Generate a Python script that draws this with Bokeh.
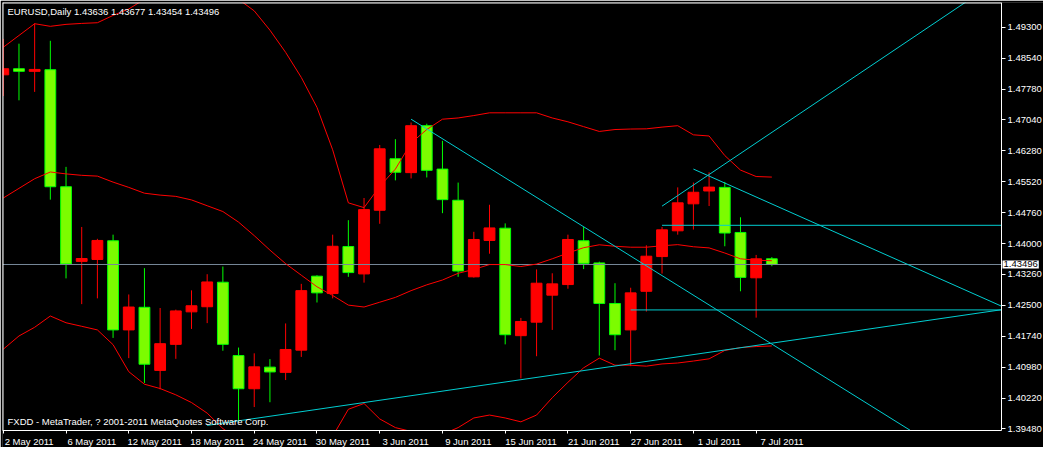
import pandas as pd
from bokeh.plotting import figure
from bokeh.models import ColumnDataSource, FixedTicker, PrintfTickFormatter, Label, Range1d
from bokeh.embed import file_html
from bokeh.resources import INLINE

# ---------------- data ----------------
dates = pd.bdate_range("2011-05-02", periods=50)

opens = [1.48138, 1.48287, 1.48223, 1.48263, 1.45399, 1.43572, 1.43619, 1.44077, 1.41895, 1.42448,
         1.40904, 1.41541, 1.42337, 1.42462, 1.43062, 1.41267, 1.40455, 1.40984, 1.40856, 1.41399,
         1.43210, 1.42785, 1.43935, 1.43265, 1.44823, 1.46084, 1.45744, 1.46893, 1.45831, 1.45068,
         1.43194, 1.44084, 1.44384, 1.41754, 1.42084, 1.42745, 1.43005, 1.44077, 1.43534, 1.42542,
         1.41895, 1.42840, 1.43690, 1.44320, 1.44981, 1.45295, 1.45383, 1.44280, 1.43170, 1.43636]
highs = [1.49018, 1.48900, 1.49396, 1.48971, 1.45885, 1.44414, 1.44124, 1.44226, 1.42762, 1.43406,
         1.42431, 1.42391, 1.42863, 1.43258, 1.43446, 1.41463, 1.41322, 1.41180, 1.42053, 1.43022,
         1.43234, 1.44226, 1.44580, 1.45123, 1.46421, 1.46563, 1.46971, 1.46941, 1.46523, 1.45501,
         1.44296, 1.44958, 1.44502, 1.42188, 1.43376, 1.43281, 1.44226, 1.44414, 1.43565, 1.43038,
         1.42927, 1.43966, 1.44414, 1.45383, 1.45501, 1.45753, 1.45517, 1.44651, 1.43730, 1.43677]
lows = [1.47618, 1.47514, 1.47720, 1.45083, 1.43156, 1.42526, 1.42667, 1.41699, 1.41204, 1.40597,
        1.40441, 1.41187, 1.41919, 1.42061, 1.41385, 1.39652, 1.40007, 1.40125, 1.40668, 1.41234,
        1.42566, 1.42667, 1.43194, 1.43052, 1.44492, 1.45555, 1.45602, 1.45626, 1.44752, 1.43194,
        1.43175, 1.43760, 1.41541, 1.40708, 1.41251, 1.41895, 1.42903, 1.43383, 1.41267, 1.41399,
        1.41008, 1.42344, 1.43274, 1.44226, 1.44351, 1.44927, 1.43942, 1.42840, 1.42195, 1.43454]
closes = [1.48287, 1.48223, 1.48270, 1.45399, 1.43510, 1.43642, 1.44084, 1.41895, 1.42455, 1.41055,
          1.41558, 1.42360, 1.42486, 1.43069, 1.41541, 1.40455, 1.40991, 1.40866, 1.41416, 1.42856,
          1.42802, 1.43942, 1.43298, 1.44839, 1.46327, 1.45753, 1.46893, 1.45800, 1.45083, 1.43336,
          1.44108, 1.44391, 1.41777, 1.42101, 1.43038, 1.43022, 1.44108, 1.43524, 1.42542, 1.41777,
          1.42802, 1.43699, 1.44344, 1.45005, 1.45264, 1.45390, 1.44266, 1.43180, 1.43635, 1.43496]

bb_upper = [1.48813, 1.49101, 1.49389, 1.49325, 1.49373, 1.49396, 1.49413, 1.49592, 1.49750, 1.49986,
            1.50105, 1.50175, 1.50199, 1.50175, 1.50105, 1.49986, 1.49703, 1.49231, 1.48688, 1.48074,
            1.47342, 1.46303, 1.45005, 1.44887, 1.45406, 1.45831, 1.46469, 1.46799, 1.47052, 1.47082,
            1.47141, 1.47208, 1.47208, 1.47208, 1.47208, 1.47082, 1.46988, 1.46870, 1.46752, 1.46799,
            1.46811, 1.46816, 1.46858, 1.46893, 1.46669, 1.46641, 1.46162, 1.45807, 1.45649, 1.45635]
bb_middle = [1.45123, 1.45359, 1.45595, 1.45760, 1.45713, 1.45678, 1.45659, 1.45512, 1.45383, 1.45241,
             1.45194, 1.45163, 1.45076, 1.44934, 1.44792, 1.44533, 1.44202, 1.43848, 1.43517, 1.43234,
             1.42951, 1.42738, 1.42502, 1.42455, 1.42573, 1.42691, 1.42856, 1.42998, 1.43116, 1.43281,
             1.43376, 1.43494, 1.43494, 1.43446, 1.43506, 1.43635, 1.43777, 1.43907, 1.43978, 1.43942,
             1.43919, 1.43919, 1.43954, 1.43982, 1.43930, 1.43902, 1.43777, 1.43635, 1.43600, 1.43588]
bb_lower = [1.41423, 1.41747, 1.41959, 1.42235, 1.42070, 1.41983, 1.41895, 1.41534, 1.40873, 1.40566,
            1.40460, 1.40306, 1.40117, 1.39858, 1.39480, 1.39220, 1.38984, 1.38866, 1.38866, 1.38984,
            1.39220, 1.39291, 1.39952, 1.40094, 1.39716, 1.39504, 1.39409, 1.39338, 1.39338, 1.39504,
            1.39740, 1.39811, 1.39740, 1.39645, 1.39811, 1.40236, 1.40613, 1.40967, 1.41204, 1.41031,
            1.41031, 1.41008, 1.41062, 1.41085, 1.41133, 1.41187, 1.41392, 1.41463, 1.41487, 1.41503]

price_ticks = [1.39480, 1.40220, 1.40980, 1.41740, 1.42500, 1.43260, 1.44000,
               1.44760, 1.45520, 1.46280, 1.47040, 1.47780, 1.48540, 1.49300]

# drawn trend lines (rays): two anchor points each (bar index, price)
trend_ax = [13, 26, 42, 44, 42, 40]
trend_ay = [1.39558, 1.47052, 1.44924, 1.45831, 1.44455, 1.42384]
trend_bx = [64, 64, 64, 64, 64, 64]
trend_by = [1.42409, 1.37959, 1.50598, 1.42415, 1.44455, 1.42384]

symbol = "EURUSD,Daily"
footer = "FXDD - MetaTrader, ? 2001-2011 MetaQuotes Software Corp."

# ---------------- styling ----------------
FONT = "Liberation Sans"
FS = "9.5px"
UP_COL, DOWN_FILL, DOWN_LINE = "#ff0000", "#7cfc00", "#00ff00"
TREND = "#00ced1"
X0, XA, XE = -0.05, 63.64, 66.32      # chart left edge, price-axis line, canvas right edge
Y0, Y1, YB = 1.39433, 1.49908, 1.39017  # chart bottom, chart top, canvas bottom

idx = list(range(len(opens)))
up = [c >= o for o, c in zip(opens, closes)]
src = ColumnDataSource(dict(
    x=idx, o=opens, h=highs, l=lows, c=closes,
    top=[max(o, c) for o, c in zip(opens, closes)],
    bot=[min(o, c) for o, c in zip(opens, closes)],
    fill=[UP_COL if u else DOWN_FILL for u in up],
    line=[UP_COL if u else DOWN_LINE for u in up],
    ub=bb_upper, mb=bb_middle, lb=bb_lower,
))

p = figure(width=1043, height=447, output_backend="svg", toolbar_location=None,
           x_range=Range1d(X0, XE), y_range=Range1d(YB, Y1),
           y_axis_location="right",
           background_fill_color="black", border_fill_color="black",
           min_border_left=2, min_border_top=2, min_border_right=0, min_border_bottom=0)
p.outline_line_color = None
p.xgrid.grid_line_color = None
p.ygrid.grid_line_color = None

# candles
p.segment(x0="x", y0="h", x1="x", y1="l", source=src, line_color="line", line_width=1)
p.vbar(x="x", width=0.69, top="top", bottom="bot", source=src,
       fill_color="fill", line_color="line", line_width=1)

# current price line (up to the price axis)
p.segment(x0=[X0], y0=[closes[-1]], x1=[XA], y1=[closes[-1]], line_color="#778899", line_width=1)

# bollinger bands
for col in ("ub", "mb", "lb"):
    p.line(x="x", y=col, source=src, line_color="#ff0000", line_width=1)

# trend lines, extended as rays up to the price axis
ends = [ay + (by - ay) * (XA - ax) / (bx - ax) for ax, ay, bx, by in zip(trend_ax, trend_ay, trend_bx, trend_by)]
p.segment(x0=trend_ax, y0=trend_ay, x1=[XA] * len(ends), y1=ends, line_color=TREND, line_width=1)

# mask the axis margins (chart content is clipped at the chart border)
p.quad(left=[X0, XA], right=[XE, XE], bottom=[YB, YB], top=[Y0, Y1], fill_color="black", line_color=None)

# chart border (top and left)
p.segment(x0=[X0, X0], y0=[Y1, Y0], x1=[XA, X0], y1=[Y1, Y1], line_color="white", line_width=2)

# axes
for ax in (p.xaxis[0], p.yaxis[0]):
    ax.axis_line_color = "white"
    ax.major_label_text_color = "white"
    ax.major_label_text_font = FONT
    ax.major_label_text_font_size = FS

p.yaxis.fixed_location = XA
p.yaxis.bounds = (Y0, Y1)
p.yaxis.ticker = FixedTicker(ticks=price_ticks)
p.yaxis.formatter = PrintfTickFormatter(format="%.5f")
p.yaxis.major_tick_in = 0
p.yaxis.major_tick_out = 4
p.yaxis.major_tick_line_color = "white"
p.yaxis.minor_tick_line_color = None
p.yaxis.major_label_standoff = 2

tick_idx = list(range(0, len(dates), 4))
label_pos = [i + 1.65 for i in tick_idx]
p.xaxis.fixed_location = Y0
p.xaxis.bounds = (X0, XA)
p.xaxis.ticker = FixedTicker(ticks=label_pos, minor_ticks=tick_idx)
p.xaxis.major_label_overrides = {pos: f"{dates[i].day} {dates[i]:%b %Y}" for pos, i in zip(label_pos, tick_idx)}
p.xaxis.major_tick_line_color = None
p.xaxis.major_tick_in = 0
p.xaxis.major_tick_out = 3
p.xaxis.minor_tick_line_color = "white"
p.xaxis.minor_tick_in = 0
p.xaxis.minor_tick_out = 3
p.xaxis.major_label_standoff = 2

# texts
p.add_layout(Label(x=X0, y=Y1, x_offset=5, y_offset=-3, text_baseline="top",
                   text=f"{symbol}  {opens[-1]:.5f} {highs[-1]:.5f} {lows[-1]:.5f} {closes[-1]:.5f}",
                   text_color="white", text_font=FONT, text_font_size=FS))
p.add_layout(Label(x=X0, y=Y0, x_offset=5, y_offset=4, text_baseline="bottom",
                   text=footer, text_color="white", text_font=FONT, text_font_size=FS))
p.add_layout(Label(x=XA, y=closes[-1], x_offset=1, text_baseline="middle",
                   text=f"{closes[-1]:.5f}", text_color="black", background_fill_color="white",
                   padding=1, text_font=FONT, text_font_size=FS))

open("out.html", "w").write(file_html(p, INLINE))
